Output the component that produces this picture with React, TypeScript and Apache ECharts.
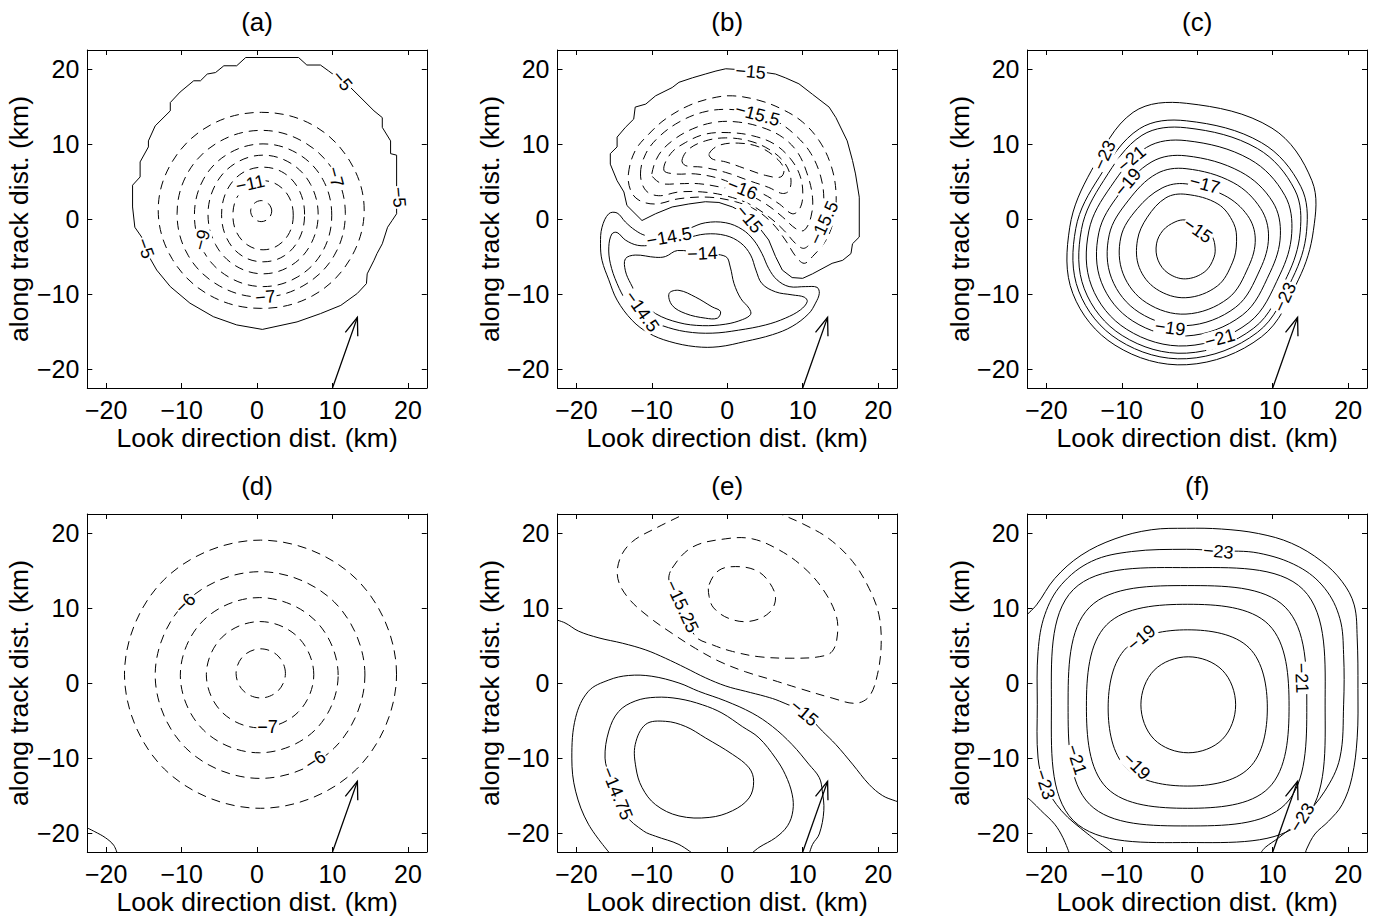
import React, { useEffect, useRef } from "react";
import * as echarts from "echarts";

// ---------------- data ----------------
const TICK_VALUES = [-20, -10, 0, 10, 20];
const AXIS_RANGE = [-22.5, 22.5];
const PANEL_TITLES = ["(a)", "(b)", "(c)", "(d)", "(e)", "(f)"];
const X_AXIS_NAME = "Look direction dist. (km)";
const Y_AXIS_NAME = "along track dist. (km)";

// look-direction arrow (km)
const ARROW_SHAFT = [[10, -22.5], [13.3, -13.1]];
const ARROW_HEAD = [[11.7, -15.1], [13.3, -13.1], [13.35, -15.6]];

type Contour = { level: number; closed: boolean; pts: number[][] };
type Label = [number, number, string, number]; // x, y, text, angle

const contoursA: Contour[] = [
  { level: -5, closed: true, pts: [[-1.5,21.5],[5.5,21.5],[6.6,20.5],[8.4,20.5],[9.5,19.7],[12.4,17.5],[15.5,14.4],[16.6,13.5],[16.6,12.2],[17.7,10.4],[17.7,8.7],[18.5,8.5],[18.5,4.2],[18.5,0.7],[17.9,-0.2],[17.3,-1.1],[16.6,-3.3],[15.9,-4.6],[15.5,-5.5],[14.6,-7.3],[14.5,-8.6],[13.3,-9.9],[11.1,-11.5],[8.4,-12.6],[5.3,-13.7],[0.7,-14.7],[-2.7,-14.1],[-5.8,-13.0],[-8.9,-11.2],[-11.5,-9.0],[-13.3,-6.8],[-14.6,-4.5],[-15.3,-2.4],[-16.2,-1.1],[-16.5,1.6],[-16.5,4.5],[-15.5,5.6],[-15.5,7.6],[-14.4,9.6],[-14.4,10.4],[-13.5,12.4],[-11.5,14.4],[-11.5,15.5],[-10.2,16.9],[-8.4,18.4],[-7.5,18.4],[-6.6,19.3],[-5.5,19.5],[-4.4,20.4],[-2.7,20.4]] },
  { level: -6, closed: true, pts: [[14.2,1.2],[12.3,7.7],[7.4,12.5],[0.6,14.2],[-6.2,12.5],[-11.2,7.7],[-13.1,1.2],[-11.2,-5.4],[-6.2,-10.2],[0.6,-11.9],[7.4,-10.2],[12.3,-5.4]] },
  { level: -7, closed: true, pts: [[11.7,0.7],[10.2,6.3],[6.1,10.3],[0.6,11.8],[-5.0,10.3],[-9.1,6.3],[-10.6,0.7],[-9.1,-4.9],[-5.0,-8.9],[0.6,-10.4],[6.1,-8.9],[10.2,-4.9]] },
  { level: -8, closed: true, pts: [[9.9,0.5],[8.7,5.3],[5.4,8.7],[0.8,10.0],[-3.8,8.7],[-7.1,5.3],[-8.3,0.5],[-7.1,-4.3],[-3.8,-7.7],[0.8,-9.0],[5.4,-7.7],[8.7,-4.3]] },
  { level: -9, closed: true, pts: [[8.1,0.6],[7.1,4.6],[4.5,7.4],[0.8,8.5],[-2.9,7.4],[-5.5,4.6],[-6.5,0.6],[-5.5,-3.4],[-2.9,-6.2],[0.8,-7.3],[4.5,-6.2],[7.1,-3.4]] },
  { level: -10, closed: true, pts: [[6.3,0.6],[5.6,3.8],[3.6,6.1],[0.8,6.9],[-2.0,6.1],[-4.0,3.8],[-4.7,0.6],[-4.0,-2.6],[-2.0,-4.9],[0.8,-5.7],[3.6,-4.9],[5.6,-2.6]] },
  { level: -11, closed: true, pts: [[4.8,0.5],[4.3,2.8],[2.8,4.5],[0.8,5.1],[-1.2,4.5],[-2.7,2.8],[-3.2,0.5],[-2.7,-1.8],[-1.2,-3.5],[0.8,-4.1],[2.8,-3.5],[4.3,-1.8]] },
  { level: -12, closed: true, pts: [[1.95,1.05],[1.5,2.05],[0.55,2.45],[-0.4,2.05],[-0.85,1.05],[-0.4,0.05],[0.55,-0.35],[1.5,0.05]] },
];
const labelsA: Label[] = [
  [11.3, 18.4, "\u22125", -50], [18.8, 2.9, "\u22125", -85], [-14.8, -3.9, "\u22125", -70],
  [-0.9, 4.7, "\u221211", 12], [10.4, 5.6, "\u22127", -75], [-7.3, -2.8, "\u22129", 75], [1.1, -10.4, "\u22127", 5],
];

const contoursB: Contour[] = [
  { level: -15, closed: true, pts: [[-11.3,-0.2],[-13.3,1.8],[-13.7,3.6],[-14.6,5.1],[-15.5,7.3],[-15.5,8.7],[-14.6,9.6],[-14.6,10.9],[-13.5,12.2],[-12.4,13.3],[-12.2,14.9],[-10.8,15.3],[-9.5,16.4],[-7.3,17.5],[-6.4,18.2],[-4.6,18.8],[-2.9,19.3],[-1.5,19.7],[-0.2,20.0],[3.1,19.8],[6.4,19.3],[7.7,18.8],[9.5,18.0],[11.3,16.6],[13.5,14.9],[14.4,13.5],[15.9,10.4],[16.6,7.8],[17.0,6.0],[17.5,2.9],[17.5,-2.4],[16.6,-3.3],[16.4,-4.6],[15.3,-5.5],[13.9,-5.9],[11.3,-7.3],[10.0,-7.9],[8.6,-7.8],[7.3,-6.8],[6.4,-5.0],[5.5,-2.8],[4.2,-1.1],[2.4,0.7],[0.7,1.6],[-1.1,2.2],[-2.9,2.3],[-5.1,2.0],[-7.3,1.6],[-9.5,0.7]] },
  { level: -15.25, closed: true, pts: [[-13.1,6.0],[-12.2,9.1],[-10.4,11.3],[-8.2,13.3],[-5.1,15.1],[-2.0,16.1],[0.7,16.4],[4.2,15.8],[7.3,14.6],[10.0,12.9],[12.2,10.4],[13.7,7.3],[14.4,3.8],[14.2,0.3],[13.1,-2.8],[11.3,-5.0],[10.2,-5.9],[9.1,-5.0],[7.7,-2.8],[6.0,-0.6],[3.8,1.2],[1.1,2.3],[-2.4,2.9],[-6.4,2.7],[-9.5,2.0],[-11.7,2.5],[-12.8,3.8]] },
  { level: -15.5, closed: true, pts: [[-11.5,6.0],[-10.8,8.7],[-9.1,10.9],[-6.4,12.9],[-3.3,14.2],[-0.2,14.6],[3.3,14.2],[6.4,13.1],[9.1,11.1],[11.1,8.7],[12.4,5.6],[12.8,2.5],[12.4,-0.6],[11.3,-2.8],[10.2,-3.9],[9.1,-3.3],[7.5,-1.5],[5.5,0.3],[2.9,2.0],[-0.2,3.1],[-3.3,3.6],[-6.4,3.6],[-9.1,3.1],[-10.8,3.8]] },
  { level: -15.75, closed: true, pts: [[-10.0,6.0],[-9.1,8.5],[-7.3,10.4],[-4.6,12.0],[-1.5,12.9],[1.5,12.9],[4.6,12.2],[7.3,10.9],[9.3,8.9],[10.6,6.0],[11.3,2.9],[11.1,0.3],[10.2,-1.5],[9.1,-1.3],[7.3,0.3],[5.1,2.0],[2.4,3.4],[-0.7,4.2],[-3.8,4.7],[-6.4,4.7],[-8.6,4.7],[-9.7,5.4]] },
  { level: -16, closed: true, pts: [[-8.4,6.5],[-7.5,8.7],[-5.5,10.2],[-2.9,11.3],[0.2,11.5],[3.3,11.1],[6.2,10.0],[8.4,8.0],[9.7,5.6],[10.0,2.9],[9.5,1.2],[8.6,0.7],[6.9,2.0],[4.6,3.4],[2.0,4.2],[-1.1,5.4],[-4.2,6.0],[-6.9,6.0]] },
  { level: -16.25, closed: true, pts: [[-6.0,7.8],[-5.1,9.3],[-2.9,10.4],[-0.2,10.8],[2.9,10.4],[5.5,9.3],[7.5,7.6],[8.4,5.6],[8.2,3.8],[7.3,3.4],[5.5,4.2],[2.9,5.1],[-0.2,6.2],[-3.3,6.9],[-5.5,7.1]] },
  { level: -16.5, closed: true, pts: [[-2.4,8.7],[-1.1,9.8],[1.5,10.1],[4.2,9.6],[6.4,8.2],[7.5,6.7],[7.1,5.6],[5.1,5.8],[2.4,6.7],[-0.2,7.6],[-2.0,8.0]] },
  { level: -14.5, closed: true, pts: [[-15.7,0.7],[-14.6,0.8],[-13.5,-0.4],[-12.2,-1.5],[-10.8,-2.2],[-7.7,-2.5],[-5.1,-1.3],[-2.9,-0.5],[-0.2,-0.5],[2.0,-1.4],[3.5,-2.8],[4.6,-4.6],[5.5,-6.6],[6.6,-8.1],[8.2,-9.0],[10.4,-9.0],[11.9,-9.1],[12.2,-9.9],[11.7,-11.2],[10.8,-12.6],[8.6,-14.3],[6.0,-15.4],[2.4,-16.3],[-1.1,-17.0],[-4.2,-17.0],[-7.7,-16.3],[-10.4,-15.2],[-12.6,-13.5],[-14.6,-10.8],[-15.7,-8.1],[-16.6,-5.5],[-16.8,-3.3],[-16.6,-1.1]] },
  { level: -14.25, closed: true, pts: [[-15.3,-2.0],[-14.6,-1.8],[-13.5,-2.8],[-11.9,-3.5],[-10.0,-3.5],[-7.7,-3.3],[-5.5,-2.6],[-2.9,-2.0],[-0.2,-2.2],[1.8,-3.2],[3.1,-4.8],[3.8,-6.8],[4.6,-8.6],[6.4,-9.7],[8.6,-10.1],[10.2,-10.4],[10.6,-11.0],[9.7,-12.1],[7.7,-13.2],[5.1,-14.1],[1.5,-14.8],[-2.0,-15.2],[-5.5,-15.0],[-8.6,-14.2],[-11.3,-13.0],[-13.3,-11.0],[-14.6,-8.6],[-15.5,-5.9],[-15.7,-3.7]] },
  { level: -14, closed: true, pts: [[-13.5,-5.3],[-12.2,-4.8],[-9.5,-5.1],[-8.2,-5.0],[-6.6,-4.2],[-3.3,-4.6],[-0.2,-5.0],[0.4,-6.4],[0.9,-8.6],[1.8,-10.6],[2.9,-11.9],[3.1,-12.7],[2.0,-13.4],[-0.2,-14.0],[-3.3,-14.2],[-6.4,-13.8],[-9.5,-12.6],[-11.5,-10.8],[-12.8,-8.6],[-13.5,-6.9]] },
  { level: -13.75, closed: true, pts: [[-7.7,-9.9],[-6.4,-9.5],[-4.2,-10.4],[-2.0,-11.7],[-0.9,-12.3],[-1.3,-13.2],[-2.9,-13.2],[-5.5,-12.6],[-7.3,-11.5]] },
];
const labelsB: Label[] = [
  [3.1, 19.6, "\u221215", -5], [4.0, 13.9, "\u221215.5", -15], [2.0, 4.0, "\u221216", -22],
  [2.9, 0.0, "\u221215", -50], [12.8, -0.5, "\u221215.5", 65], [-7.7, -2.4, "\u221214.5", 10],
  [-3.3, -4.6, "\u221214", 3], [-11.3, -12.3, "\u221214.5", -55],
];

const contoursC: Contour[] = [
  { level: -15, closed: true, pts: [[-1.55,-0.13],[0.72,-0.85],[1.89,-2.17],[2.33,-3.46],[2.23,-5.08],[1.01,-7.01],[-1.55,-7.97],[-3.87,-7.21],[-5.2,-5.48],[-5.4,-3.31],[-4.54,-1.52],[-2.94,-0.39]] },
  { level: -16, closed: true, pts: [[-1.52,3.29],[2.74,2.0],[4.82,-0.57],[5.21,-3.03],[4.69,-5.74],[2.66,-8.92],[-1.52,-10.48],[-5.42,-9.32],[-7.69,-6.45],[-7.93,-2.82],[-6.62,0.24],[-4.16,2.82]] },
  { level: -17, closed: true, pts: [[-1.5,4.68],[3.57,3.16],[6.68,0.45],[7.69,-2.66],[6.81,-6.32],[4.08,-10.57],[-1.49,-12.66],[-6.75,-11.14],[-9.83,-7.29],[-10.12,-2.4],[-7.95,1.37],[-4.66,4.13]] },
  { level: -18, closed: true, pts: [[-1.48,6.7],[4.76,4.85],[8.41,1.39],[9.45,-2.39],[8.32,-6.73],[5.09,-11.75],[-1.47,-14.2],[-7.7,-12.44],[-11.36,-7.89],[-11.67,-2.11],[-9.18,2.41],[-5.39,6.03]] },
  { level: -19, closed: true, pts: [[-1.47,8.41],[5.77,6.27],[10.01,2.26],[11.02,-2.16],[9.66,-7.09],[5.99,-12.79],[-1.45,-15.57],[-8.54,-13.59],[-12.71,-8.42],[-13.05,-1.84],[-10.31,3.37],[-6.0,7.63]] },
  { level: -20, closed: true, pts: [[-1.45,10.43],[6.96,7.96],[11.61,3.14],[12.52,-1.93],[10.94,-7.44],[6.85,-13.79],[-1.43,-16.89],[-9.35,-14.69],[-14.01,-8.93],[-14.37,-1.59],[-11.45,4.33],[-6.72,9.53]] },
  { level: -21, closed: true, pts: [[-1.43,12.14],[7.97,9.38],[12.94,3.86],[13.64,-1.76],[11.89,-7.69],[7.49,-14.53],[-1.42,-17.86],[-9.95,-15.51],[-14.97,-9.3],[-15.35,-1.4],[-12.39,5.14],[-7.33,11.14]] },
  { level: -22, closed: true, pts: [[-1.42,13.07],[8.52,10.16],[13.74,4.3],[14.49,-1.64],[12.62,-7.89],[7.98,-15.09],[-1.41,-18.6],[-10.41,-16.13],[-15.71,-9.59],[-16.1,-1.25],[-12.96,5.62],[-7.67,12.01]] },
  { level: -23, closed: true, pts: [[-1.4,15.4],[9.9,12.1],[15.2,5.1],[15.4,-1.5],[13.4,-8.1],[8.5,-15.7],[-1.4,-19.4],[-10.9,-16.8],[-16.5,-9.9],[-16.9,-1.1],[-14.0,6.5],[-8.5,14.2]] },
];
const labelsC: Label[] = [
  [-12.3, 8.5, "\u221223", 65], [-8.7, 8.0, "\u221221", 40], [-9.2, 4.9, "\u221219", 50],
  [1.0, 4.6, "\u221217", -15], [0.1, -1.5, "\u221215", -35], [-3.6, -14.5, "\u221219", -8],
  [3.0, -15.9, "\u221221", 15], [11.6, -10.4, "\u221223", 65],
];

const contoursD: Contour[] = [
  { level: -5, closed: false, pts: [[-22.9,-19.1],[-21.5,-19.8],[-20.1,-20.6],[-19.0,-21.6],[-18.5,-22.8]] },
  { level: -5.5, closed: true, pts: [[18.49,1.17],[13.21,13.79],[0.46,19.02],[-12.29,13.79],[-17.57,1.17],[-12.29,-11.45],[0.46,-16.68],[13.21,-11.45]] },
  { level: -6, closed: true, pts: [[14.3,1.06],[10.23,10.79],[0.4,14.82],[-9.43,10.79],[-13.5,1.06],[-9.43,-8.67],[0.4,-12.7],[10.23,-8.67]] },
  { level: -6.5, closed: true, pts: [[10.75,1.04],[7.69,8.34],[0.29,11.37],[-7.11,8.34],[-10.17,1.04],[-7.11,-6.26],[0.29,-9.29],[7.69,-6.26]] },
  { level: -7, closed: true, pts: [[7.52,1.1],[5.43,6.1],[0.4,8.18],[-4.63,6.1],[-6.72,1.1],[-4.63,-3.9],[0.4,-5.98],[5.43,-3.9]] },
  { level: -7.5, closed: true, pts: [[3.76,1.28],[2.8,3.59],[0.49,4.55],[-1.82,3.59],[-2.78,1.28],[-1.82,-1.03],[0.49,-1.99],[2.8,-1.03]] },
];
const labelsD: Label[] = [
  [-9.5, 10.6, "\u22126", 45], [1.4, -5.9, "\u22127", 0], [7.74, -10.3, "\u22126", 32],
];

const contoursE: Contour[] = [
  { level: -15, closed: false, pts: [[-23,8.5],[-21.5,8.0],[-19.7,6.9],[-17.0,6.0],[-13.9,5.3],[-10.8,4.4],[-8.2,3.3],[-5.5,2.0],[-2.9,0.7],[-0.2,-0.4],[2.4,-1.1],[5.1,-1.8],[6.9,-2.4],[10.2,-4.0],[12.6,-6.4],[14.4,-8.2],[16.6,-10.8],[18.8,-13.5],[20.6,-15.0],[22.3,-15.7],[23,-15.9]] },
  { level: -15.125, closed: false, pts: [[-4.6,23],[-9.5,20.6],[-12.6,18.8],[-14.2,16.6],[-14.5,13.9],[-13.1,11.3],[-10.4,8.8],[-7.3,6.6],[-4.2,4.6],[-1.1,2.9],[2.4,1.5],[6.0,0.4],[9.5,-0.7],[13.9,-2.0],[17.0,-2.7],[18.8,-1.8],[19.9,1.1],[20.4,5.1],[20.1,9.1],[18.8,12.6],[16.6,16.2],[13.5,19.2],[10.0,21.2],[6.9,22.6],[6.3,23]] },
  { level: -15.25, closed: true, pts: [[-7.3,15.3],[-4.6,18.1],[-0.2,19.2],[3.3,19.2],[6.9,17.7],[10.0,15.5],[12.6,12.6],[14.4,9.1],[14.6,6.4],[13.9,4.2],[12.2,3.5],[8.6,3.3],[4.2,3.5],[0.7,4.2],[-2.0,5.1],[-4.2,6.2],[-6.0,10.0],[-7.7,13.5]] },
  { level: -15.375, closed: true, pts: [[-2.4,13.1],[-1.1,15.0],[1.1,15.5],[3.8,15.0],[5.5,13.5],[6.4,11.3],[5.5,9.3],[2.9,8.2],[0.2,8.6],[-1.8,10.0],[-2.4,11.5]] },
  { level: -14.875, closed: false, pts: [[-15.3,-23],[-18.4,-18.8],[-20.1,-14.4],[-20.6,-10.0],[-20.1,-4.6],[-18.4,-1.1],[-15.7,0.4],[-13.1,1.0],[-10.0,0.9],[-6.4,0.0],[-3.8,-1.1],[-0.2,-2.4],[3.3,-4.0],[6.0,-5.8],[8.6,-8.2],[10.8,-10.8],[12.2,-12.6],[12.6,-14.4],[12.8,-17.0],[12.2,-20.1],[11.3,-21.5],[10.8,-23]] },
  { level: -14.75, closed: false, pts: [[-4.2,-23],[-6.4,-21.5],[-9.5,-20.4],[-11.1,-19.7],[-13.5,-17.5],[-15.5,-12.6],[-16.2,-10.0],[-15.7,-6.4],[-14.4,-3.8],[-12.2,-2.4],[-9.5,-1.9],[-6.4,-2.1],[-3.3,-2.9],[-0.7,-4.0],[2.0,-5.8],[4.2,-7.3],[6.4,-10.0],[7.7,-12.2],[8.6,-14.8],[8.7,-17.0],[8.0,-19.0],[6.4,-20.6],[4.2,-21.9],[2.9,-23]] },
  { level: -14.625, closed: true, pts: [[-12.2,-8.2],[-10.8,-5.5],[-8.2,-5.1],[-5.5,-5.8],[-2.9,-7.3],[0.7,-9.5],[2.9,-11.3],[3.5,-13.1],[2.9,-15.3],[0.7,-17.0],[-2.4,-17.9],[-6.4,-17.7],[-9.5,-16.2],[-11.3,-13.9],[-12.1,-11.3]] },
];
const labelsE: Label[] = [
  [-6.0, 10.2, "\u221215.25", -65], [10.2, -4.0, "\u221215", -40], [-14.6, -14.7, "\u221214.75", -68],
];

const contoursF: Contour[] = [
  { level: -18, closed: true, pts: [[5.09,-2.9],[3.33,1.7],[-1.19,3.49],[-5.71,1.7],[-7.47,-2.9],[-5.71,-7.5],[-1.19,-9.29],[3.33,-7.5]] },
  { level: -19, closed: true, pts: [[9.29,-3.32],[6.86,4.69],[-1.26,7.08],[-9.38,4.69],[-11.81,-3.32],[-9.38,-11.33],[-1.26,-13.72],[6.86,-11.33]] },
  { level: -20, closed: true, pts: [[12.17,-3.1],[9.48,7.76],[-1.26,10.48],[-12.0,7.76],[-14.69,-3.1],[-12.0,-13.96],[-1.26,-16.68],[9.48,-13.96]] },
  { level: -21, closed: true, pts: [[14.52,-3.03],[11.67,10.09],[-1.3,12.97],[-14.27,10.09],[-17.12,-3.03],[-14.27,-16.15],[-1.3,-19.03],[11.67,-16.15]] },
  { level: -22, closed: true, pts: [[16.95,-2.94],[14.05,12.43],[-1.19,15.36],[-16.43,12.43],[-19.33,-2.94],[-16.43,-18.31],[-1.19,-21.24],[14.05,-18.31]] },
  { level: -23, closed: false, pts: [[-10.9,-22.8],[-14.5,-20.1],[-18.0,-17.0],[-20.2,-13.5],[-21.1,-10.0],[-21.2,-2.9],[-21.1,4.2],[-20.2,9.1],[-18.0,13.1],[-14.0,16.2],[-8.7,17.5],[-1.4,17.8],[2.8,17.6],[8.1,17.3],[13.4,15.5],[16.9,12.6],[18.9,8.6],[19.4,3.8],[19.4,-2.9],[18.9,-10.0],[16.9,-14.4],[13.9,-18.0],[10.8,-20.6],[9.0,-21.9],[8.3,-22.8]] },
  { level: -24, closed: false, pts: [[-22.9,8.8],[-21.3,10.4],[-18.9,13.9],[-15.4,17.0],[-10.9,19.2],[-6.1,20.4],[-1.4,20.6],[3.2,20.5],[8.1,19.9],[12.5,18.6],[16.5,16.2],[19.2,13.5],[20.8,10.4],[21.2,6.0],[21.3,-0.7],[21.2,-7.3],[20.5,-12.6],[19.2,-16.2],[17.4,-18.4],[15.6,-20.1],[14.5,-22.1],[14.3,-22.8]] },
  { level: -24, closed: false, pts: [[-22.9,-15.0],[-22.0,-15.7],[-20.7,-17.0],[-18.9,-18.8],[-17.8,-20.6],[-16.9,-22.8]] },
];
const labelsF: Label[] = [
  [-7.4, 6.0, "\u221219", 40], [-8.05, -11.06, "\u221219", -45], [13.85, 0.66, "\u221221", -88],
  [-16.0, -10.2, "\u221221", -72], [2.8, 17.5, "\u221223", -5], [-20.2, -13.5, "\u221223", -72],
  [13.9, -17.9, "\u221223", 58],
];

// per-panel configuration (dashed below level, contours drawn without smoothing)
const DASH_BELOW = [-5, -15, -100, -5, -15, -100];
const ROUGH = [[0], [0], [], [], [], []];
const CONTOURS = [contoursA, contoursB, contoursC, contoursD, contoursE, contoursF];
const LABELS = [labelsA, labelsB, labelsC, labelsD, labelsE, labelsF];

// ---------------- layout / style ----------------
const FONT = '"Liberation Sans", Arial, Helvetica, sans-serif';
const GRID_LEFT = [87.3, 557.5, 1027.5];
const GRID_TOP = [50, 514];
const GRID_W = 339.5;
const GRID_H = 338;
const TICK_FONT = 25;
const NAME_FONT = 26.5;
const TITLE_FONT = 26;
const LABEL_FONT = 18;
const DASH = [9, 6];

const fmt = (v: number) => (v < 0 ? "\u2212" + Math.abs(v) : String(v));

function buildOption() {
  const grid: any[] = [];
  const xAxis: any[] = [];
  const yAxis: any[] = [];
  const series: any[] = [];
  const graphic: any[] = [];

  CONTOURS.forEach((contours, i) => {
    const col = i % 3;
    const row = Math.floor(i / 3);
    const left = GRID_LEFT[col];
    const top = GRID_TOP[row];
    grid.push({ left, top, width: GRID_W, height: GRID_H, containLabel: false, outerBoundsMode: "none", show: false });

    const common = {
      type: "value",
      gridIndex: i,
      min: AXIS_RANGE[0],
      max: AXIS_RANGE[1],
      splitLine: { show: false },
      axisLine: { show: true, onZero: false, lineStyle: { color: "#000", width: 1 } },
      axisTick: { show: true, inside: true, length: 5, customValues: TICK_VALUES, lineStyle: { color: "#000", width: 1 } },
    };
    const labelStyle = { customValues: TICK_VALUES, formatter: fmt, color: "#000", fontSize: TICK_FONT, fontFamily: FONT };
    const nameStyle = { color: "#000", fontSize: NAME_FONT, fontFamily: FONT };

    xAxis.push({ ...common, position: "bottom", axisLabel: { ...labelStyle, margin: 9 },
      name: X_AXIS_NAME, nameLocation: "middle", nameGap: 36, nameTextStyle: nameStyle });
    xAxis.push({ ...common, position: "top", axisLabel: { show: false } });
    yAxis.push({ ...common, position: "left", axisLabel: { ...labelStyle, margin: 8 },
      name: Y_AXIS_NAME, nameLocation: "middle", nameRotate: 90, nameGap: 48, nameTextStyle: nameStyle });
    yAxis.push({ ...common, position: "right", axisLabel: { show: false } });

    const axisIdx = { xAxisIndex: 2 * i, yAxisIndex: 2 * i };
    const dashBelow = DASH_BELOW[i];
    const rough = ROUGH[i];
    const labels = LABELS[i];

    series.push({
      type: "custom", ...axisIdx, clip: true, silent: true, z: 2,
      data: contours.map((c) => c.pts[0]),
      renderItem: (params: any, api: any) => {
        const c = contours[params.dataIndex];
        const pts = c.pts.map((q) => api.coord(q));
        return {
          type: c.closed ? "polygon" : "polyline",
          shape: { points: pts, smooth: rough.includes(params.dataIndex) ? 0 : 0.36 },
          style: { fill: "none", stroke: "#000", lineWidth: 1, lineDash: c.level < dashBelow ? DASH : null },
        };
      },
    });

    series.push({
      type: "custom", ...axisIdx, clip: true, silent: true, z: 3,
      data: [ARROW_SHAFT[1]],
      renderItem: (_params: any, api: any) => ({
        type: "group",
        children: [
          { type: "polyline", shape: { points: ARROW_SHAFT.map((q) => api.coord(q)) }, style: { fill: "none", stroke: "#000", lineWidth: 1.3 } },
          { type: "polyline", shape: { points: ARROW_HEAD.map((q) => api.coord(q)) }, style: { fill: "none", stroke: "#000", lineWidth: 1.3 } },
        ],
      }),
    });

    series.push({
      type: "custom", ...axisIdx, clip: false, silent: true, z: 4,
      data: labels.map((l) => [l[0], l[1]]),
      renderItem: (params: any, api: any) => {
        const l = labels[params.dataIndex];
        const p = api.coord([l[0], l[1]]);
        return {
          type: "text", x: p[0], y: p[1], rotation: (l[3] * Math.PI) / 180,
          style: { text: l[2], fill: "#000", fontSize: LABEL_FONT, fontFamily: FONT, align: "center", verticalAlign: "middle", backgroundColor: "#fff", padding: [0, 1] },
        };
      },
    });

    graphic.push({
      type: "text", x: left + GRID_W / 2, y: top - 28,
      style: { text: PANEL_TITLES[i], fill: "#000", font: `${TITLE_FONT}px ${FONT}`, align: "center", verticalAlign: "middle", textAlign: "center", textVerticalAlign: "middle" },
    });
  });

  return { animation: false, backgroundColor: "#fff", grid, xAxis, yAxis, series, graphic };
}

export default function App() {
  const ref = useRef<HTMLDivElement>(null);
  useEffect(() => {
    document.body.style.margin = "0";
    const chart = echarts.init(ref.current as HTMLDivElement, null, { renderer: "svg" });
    chart.setOption(buildOption() as any);
    return () => chart.dispose();
  }, []);
  return <div ref={ref} style={{ width: 1385, height: 922, background: "#fff" }} />;
}
